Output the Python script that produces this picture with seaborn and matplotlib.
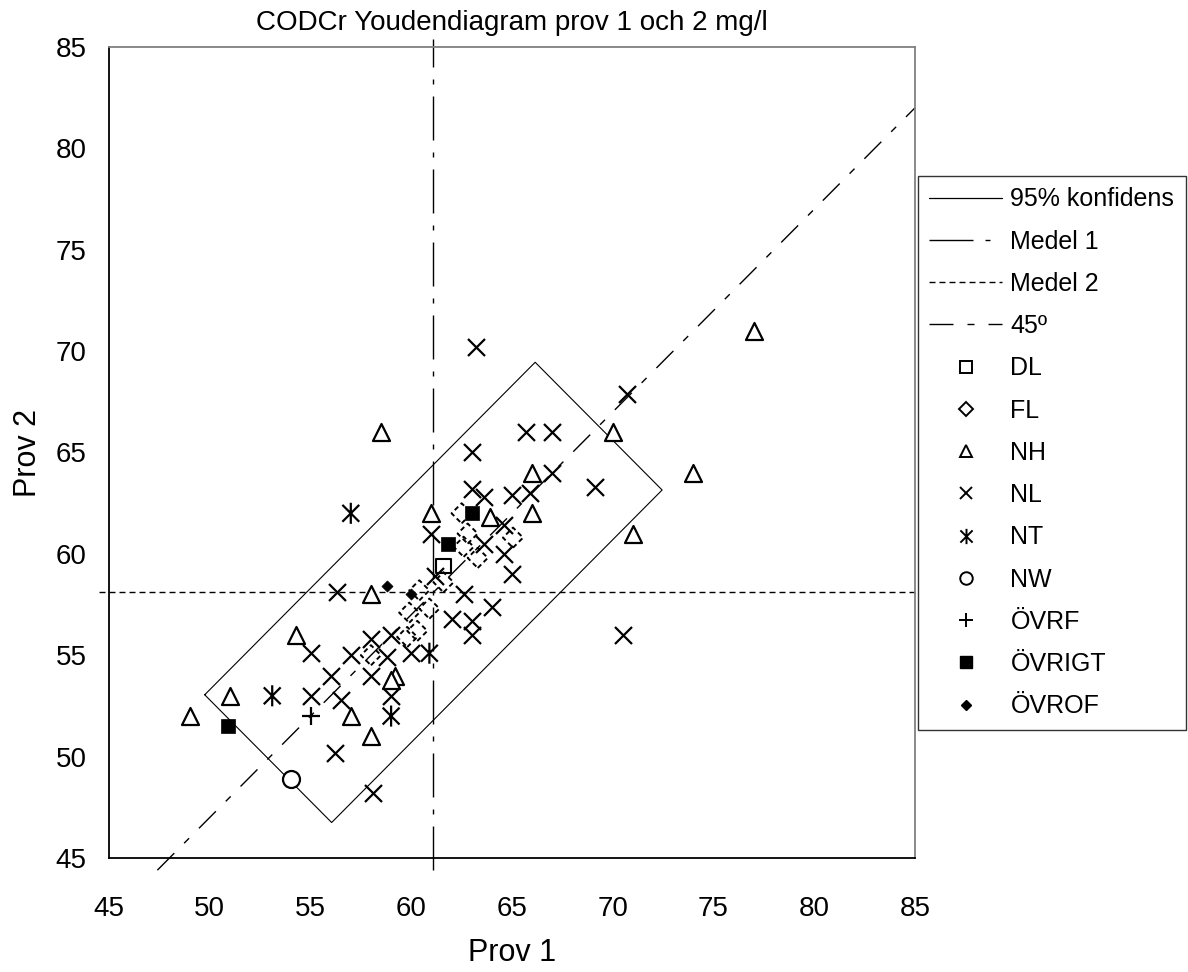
import matplotlib
matplotlib.use("Agg")
import matplotlib.pyplot as plt
import seaborn as sns
from matplotlib.path import Path
from matplotlib.lines import Line2D

# Values (Prov 1, Prov 2), mg/l
medel1 = 61.1
medel2 = 58.1
conf_long = 8.2     # half length of the 95% box along the 45 degree line
conf_short = 3.15   # half width of the box across that line

dl_x = [61.6]
dl_y = [59.4]

fl_x = [58.0, 59.8, 60.3, 59.9, 60.9, 60.4, 61.6, 62.6, 63.3, 62.8, 62.5, 65.05]
fl_y = [55.0, 55.9, 56.2, 57.1, 57.3, 58.2, 58.6, 60.35, 59.8, 61.0, 62.0, 60.8]

nh_x = [49.0, 51.0, 54.3, 57.0, 58.0, 58.0, 58.5, 59.2, 59.0, 61.0, 63.9, 66.0, 66.0, 70.0, 71.0, 74.0, 77.0]
nh_y = [52.0, 53.0, 56.0, 52.0, 51.0, 58.0, 66.0, 54.0, 53.8, 62.0, 61.8, 62.0, 64.0, 66.0, 61.0, 64.0, 71.0]

nl_x = [55.0, 56.5, 56.2, 58.1, 59.0, 56.0, 58.0, 55.0, 57.0, 58.8, 60.0, 58.0, 59.0,
        61.0, 63.0, 65.7, 67.0, 67.0, 63.0, 63.6, 65.0, 65.9, 64.6, 63.6, 64.6, 65.0,
        61.2, 62.6, 64.0, 62.0, 63.0, 63.0, 63.2, 70.7, 69.1, 70.5, 56.3]
nl_y = [53.0, 52.8, 50.2, 48.2, 53.0, 54.0, 54.0, 55.1, 55.0, 54.9, 55.1, 55.8, 56.0,
        61.0, 65.0, 66.0, 66.0, 64.0, 63.2, 62.8, 62.9, 63.0, 61.4, 60.5, 60.0, 59.0,
        58.9, 58.0, 57.4, 56.8, 56.7, 56.0, 70.2, 67.9, 63.3, 56.0, 58.1]

nt_x = [57.0, 53.1, 59.0, 60.9]
nt_y = [62.0, 53.0, 52.0, 55.1]

nw_x = [54.05]
nw_y = [48.9]

ovrf_x = [55.0]
ovrf_y = [52.0]

ovrigt_x = [50.9, 61.8, 63.0]
ovrigt_y = [51.5, 60.5, 62.0]

ovrof_x = [58.8, 60.0]
ovrof_y = [58.4, 58.0]

sns.set_style("white")
plt.rcParams["font.family"] = ["Liberation Sans", "DejaVu Sans"]
plt.rcParams["lines.scale_dashes"] = False
plt.rcParams["text.color"] = "black"
plt.rcParams["axes.labelcolor"] = "black"

px = 0.72  # one pixel in points at 100 dpi
dash_m1 = (0, (44 * px, 12 * px, 5 * px, 12 * px))
dash_m2 = (0, (6 * px, 4 * px))
dash_45 = (0, (24 * px, 14 * px, 7 * px, 14 * px))

# X with a vertical bar, as used for NT
asterisk = Path([(-1, -1), (1, 1), (-1, 1), (1, -1), (0, -1.25), (0, 1.25)],
                [Path.MOVETO, Path.LINETO, Path.MOVETO, Path.LINETO, Path.MOVETO, Path.LINETO])

fig = plt.figure(figsize=(11.88, 9.72), dpi=100)
ax = fig.add_axes([109 / 1188, 1 - 858 / 972, (915 - 109) / 1188, (858 - 47) / 972])

# 95% confidence box around the mean point
L, S = conf_long, conf_short
box_x = [medel1 - L - S, medel1 + L - S, medel1 + L + S, medel1 - L + S, medel1 - L - S]
box_y = [medel2 - L + S, medel2 + L + S, medel2 + L - S, medel2 - L - S, medel2 - L + S]
ax.plot(box_x, box_y, color="black", lw=0.8, zorder=1)

ax.plot([medel1, medel1], [44.4, 85.4], color="black", lw=1.0, linestyle=dash_m1,
        clip_on=False, zorder=1)
ax.plot([44.5, 85.0], [medel2, medel2], color="black", lw=1.0, linestyle=dash_m2,
        clip_on=False, zorder=1)
off = medel2 - medel1
ax.plot([44.4 - off, 85.0], [44.4, 85.0 + off], color="black", lw=1.0, linestyle=dash_45,
        clip_on=False, zorder=1)

mk = dict(ax=ax, legend=False, zorder=3)
sns.scatterplot(x=fl_x, y=fl_y, marker="D", s=105, facecolor="none", edgecolor="black",
                linewidth=1.4, linestyle=(0, (3.5, 2.5)), **mk)
sns.scatterplot(x=dl_x, y=dl_y, marker="s", s=110, facecolor="none", edgecolor="black",
                linewidth=1.5, **mk)
sns.scatterplot(x=nl_x, y=nl_y, marker="x", s=150, color="black", linewidth=1.6, **mk)
sns.scatterplot(x=nt_x, y=nt_y, marker=asterisk, s=230, facecolor="none", edgecolor="black",
                linewidth=1.6, **mk)
sns.scatterplot(x=ovrf_x, y=ovrf_y, marker="+", s=150, color="black", linewidth=1.6, **mk)
sns.scatterplot(x=nh_x, y=nh_y, marker="^", s=150, facecolor="white", edgecolor="black",
                linewidth=1.6, **mk)
sns.scatterplot(x=nw_x, y=nw_y, marker="o", s=150, facecolor="white", edgecolor="black",
                linewidth=1.6, **mk)
sns.scatterplot(x=ovrigt_x, y=ovrigt_y, marker="s", s=95, color="black", edgecolor="black",
                linewidth=0.5, **mk)
sns.scatterplot(x=ovrof_x, y=ovrof_y, marker="D", s=32, color="black", edgecolor="black",
                linewidth=0.5, **mk)

ax.set_xlim(45, 85)
ax.set_ylim(45, 85)
ax.set_xticks(range(45, 86, 5))
ax.set_yticks(range(45, 86, 5))
ax.tick_params(axis="both", direction="out", length=5, width=1, color="black",
               labelsize=20, labelcolor="black")
ax.tick_params(axis="x", pad=22)
ax.tick_params(axis="y", pad=11)
for side in ["left", "bottom"]:
    ax.spines[side].set_color("black")
    ax.spines[side].set_linewidth(1.3)
for side in ["top", "right"]:
    ax.spines[side].set_color("#808080")
    ax.spines[side].set_linewidth(1.3)

ax.set_title("CODCr Youdendiagram prov 1 och 2 mg/l", fontsize=20, pad=12, color="black")
ax.set_xlabel("Prov 1", fontsize=22, labelpad=12)
ax.set_ylabel("Prov 2", fontsize=22, labelpad=9)

handles = [
    Line2D([], [], color="black", lw=0.9),
    Line2D([], [], color="black", lw=1.0, linestyle=dash_m1),
    Line2D([], [], color="black", lw=1.0, linestyle=dash_m2),
    Line2D([], [], color="black", lw=1.0, linestyle=dash_45),
    Line2D([], [], marker="s", ls="none", ms=9, mfc="white", mec="black", mew=1.4),
    Line2D([], [], marker="D", ls="none", ms=7, mfc="white", mec="black", mew=1.4),
    Line2D([], [], marker="^", ls="none", ms=9, mfc="white", mec="black", mew=1.4),
    Line2D([], [], marker="x", ls="none", ms=9, mec="black", mew=1.4),
    Line2D([], [], marker=asterisk, ls="none", ms=11, mfc="none", mec="black", mew=1.4),
    Line2D([], [], marker="o", ls="none", ms=9, mfc="white", mec="black", mew=1.4),
    Line2D([], [], marker="+", ls="none", ms=10, mec="black", mew=1.4),
    Line2D([], [], marker="s", ls="none", ms=8, mfc="black", mec="black"),
    Line2D([], [], marker="D", ls="none", ms=5.5, mfc="black", mec="black"),
]
labels = ["95% konfidens", "Medel 1", "Medel 2", "45º", "DL", "FL", "NH", "NL", "NT",
          "NW", "ÖVRF", "ÖVRIGT", "ÖVROF"]
leg = fig.legend(handles, labels, loc="upper left", bbox_to_anchor=(918 / 1188, 1 - 176 / 972),
                 frameon=True, fancybox=False, edgecolor="black", fontsize=18,
                 handlelength=2.9, handletextpad=0.35, labelspacing=0.73, borderpad=0.45,
                 borderaxespad=0)
leg.get_frame().set_linewidth(1.0)

fig.savefig("out.png", dpi=100)
